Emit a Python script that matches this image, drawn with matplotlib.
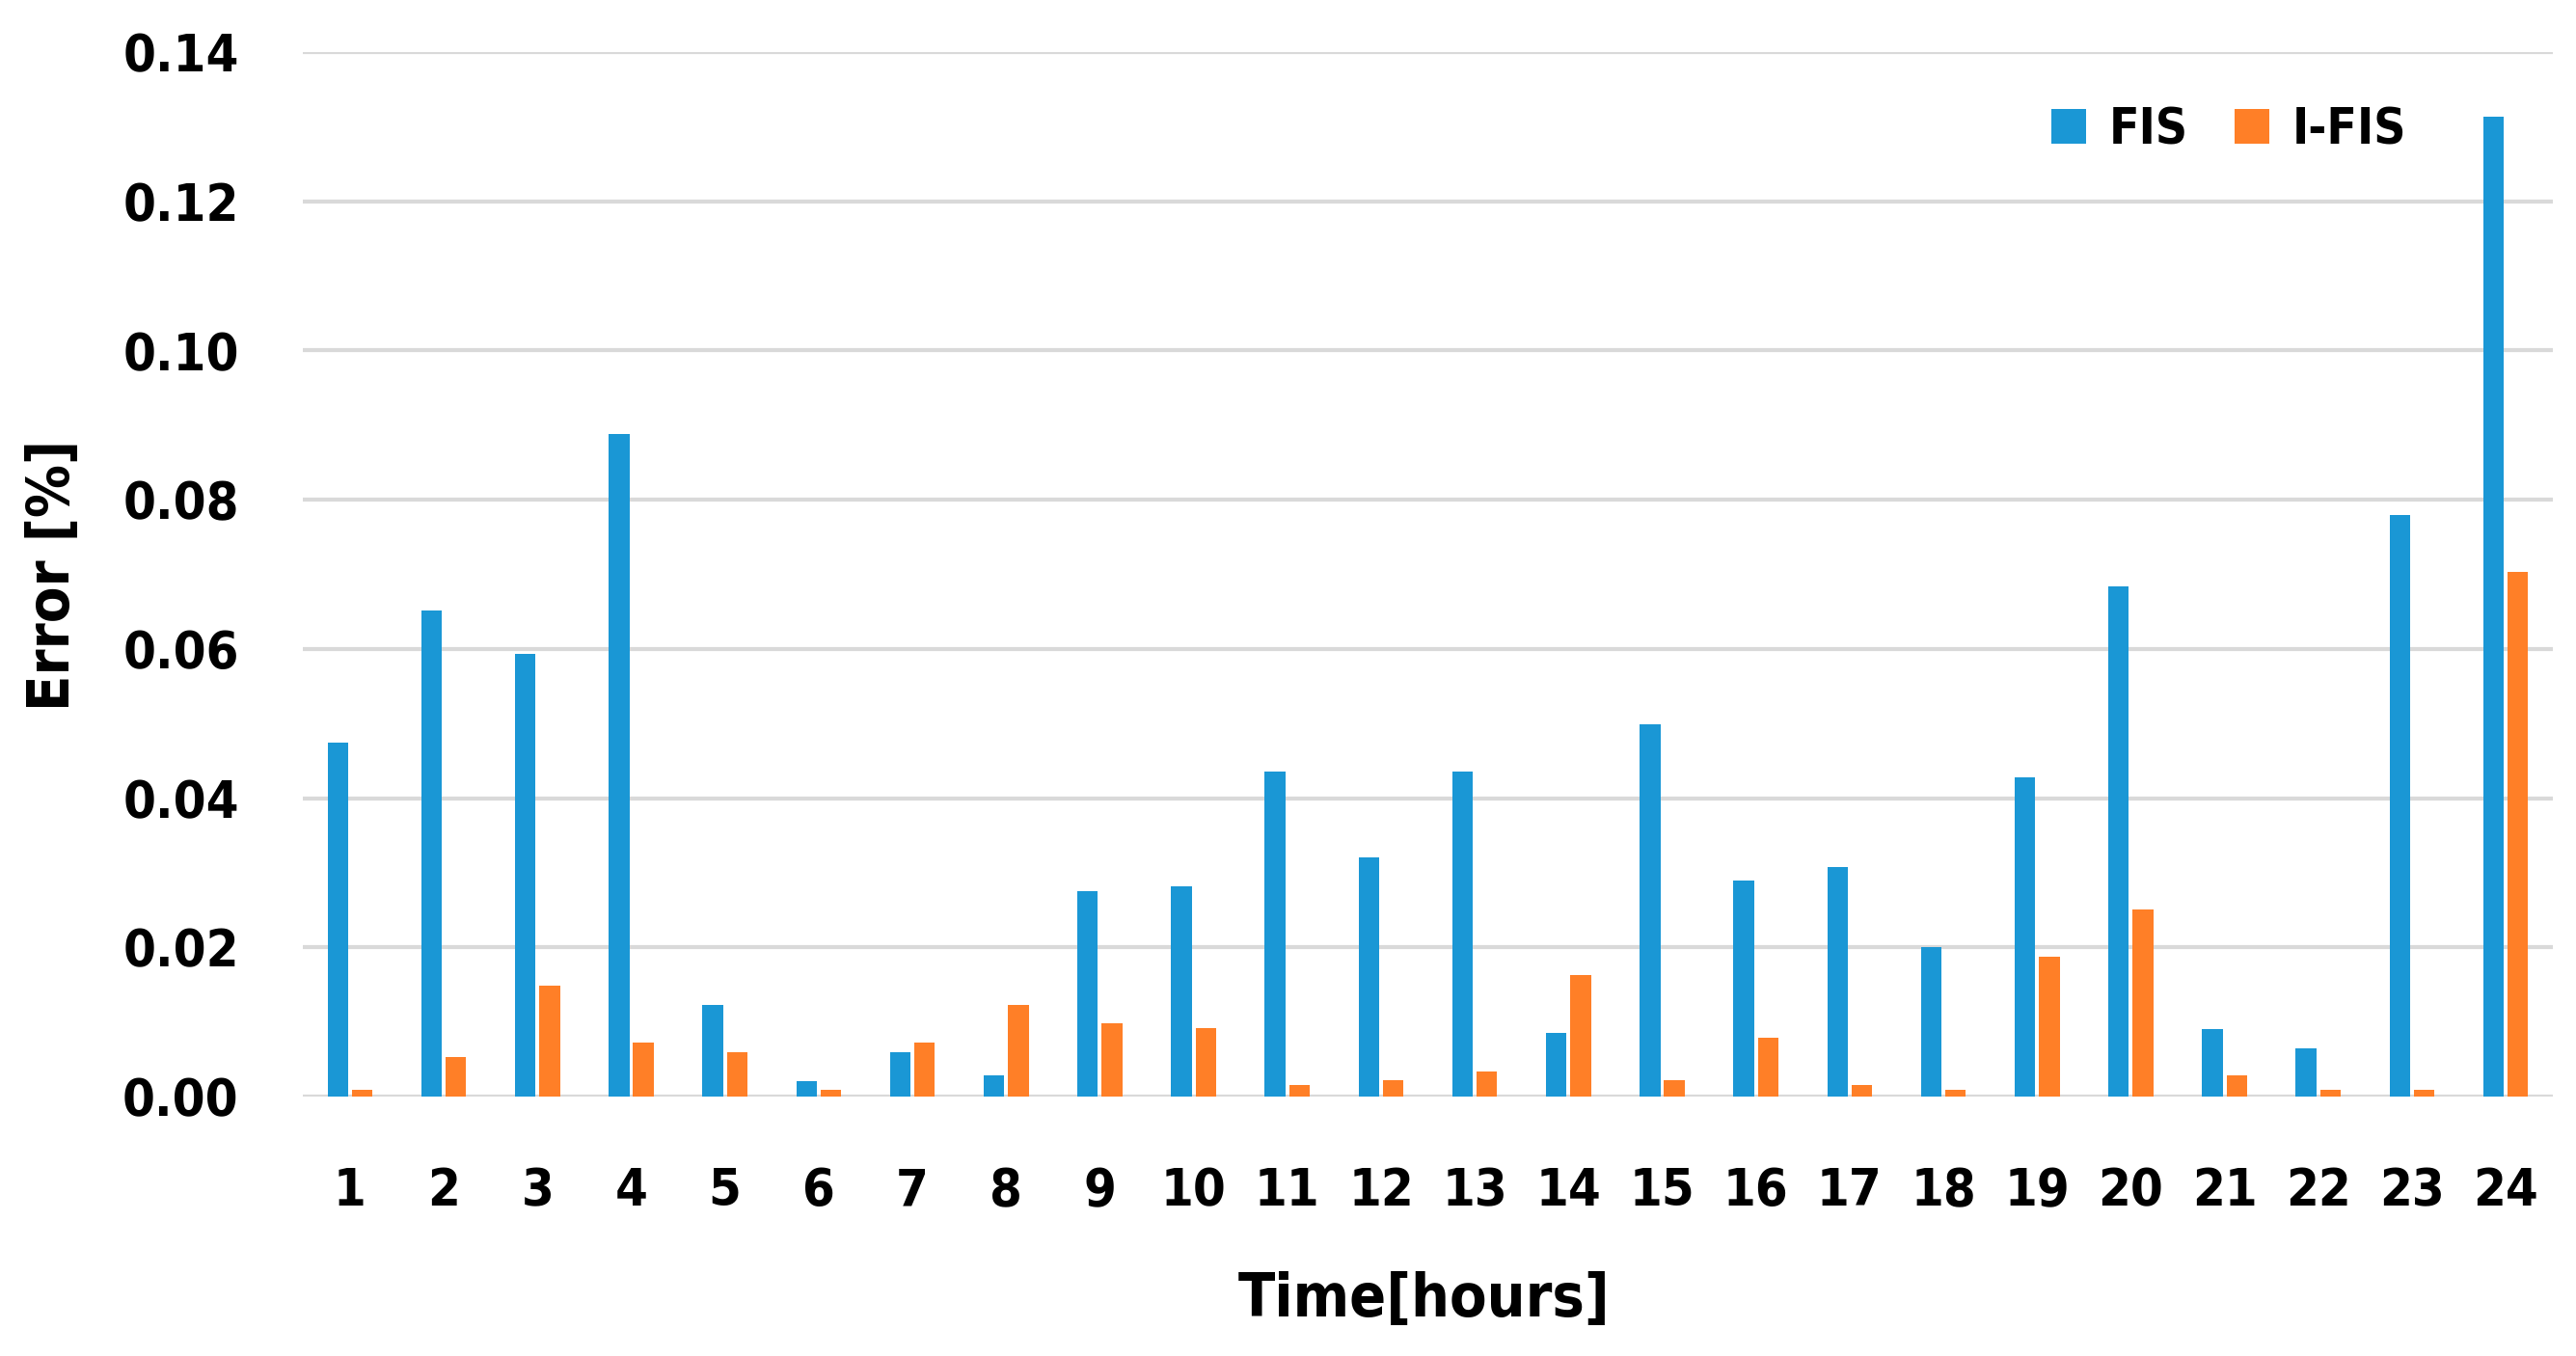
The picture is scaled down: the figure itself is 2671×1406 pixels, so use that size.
import matplotlib
matplotlib.use("Agg")
import matplotlib.pyplot as plt
import numpy as np

hours = [str(h) for h in range(1, 25)]
fis = [0.0474, 0.0652, 0.0594, 0.0888, 0.0123, 0.0021, 0.0059, 0.0028,
       0.0276, 0.0282, 0.0436, 0.0320, 0.0436, 0.0086, 0.0499, 0.0289,
       0.0308, 0.0200, 0.0428, 0.0684, 0.0091, 0.0065, 0.0779, 0.1314]
ifis = [0.0009, 0.0053, 0.0149, 0.0072, 0.0060, 0.0009, 0.0072, 0.0123,
        0.0098, 0.0092, 0.0015, 0.0022, 0.0034, 0.0163, 0.0022, 0.0079,
        0.0015, 0.0009, 0.0187, 0.0251, 0.0028, 0.0009, 0.0009, 0.0703]
yticks = [0.00, 0.02, 0.04, 0.06, 0.08, 0.10, 0.12, 0.14]

plt.rcParams['font.family'] = ['DejaVu Sans']
plt.rcParams['font.stretch'] = 'condensed'
plt.rcParams['font.weight'] = 'bold'

fig = plt.figure(figsize=(26.71, 14.06), dpi=100)
ax = fig.add_axes([0.1177, 0.1913, 0.8732, 0.7703])

x = np.arange(1, 25)
w = 0.22
blue = '#1A97D5'
orange = '#FF7F27'
ax.bar(x - 0.13, fis, width=w, color=blue, label='FIS', zorder=3)
ax.bar(x + 0.13, ifis, width=w, color=orange, label='I-FIS', zorder=3)

ax.set_xlim(0.5, 24.5)
ax.set_ylim(0, 0.14)
ax.set_xticks(x)
ax.set_xticklabels(hours)
ax.set_yticks(yticks)
ax.set_yticklabels([f"{v:.2f}" for v in yticks])
ax.grid(axis='y', color='#D9D9D9', linewidth=3, zorder=0)
ax.set_axisbelow(True)
for s in ax.spines.values():
    s.set_visible(False)
ax.tick_params(axis='both', length=0, labelsize=39, colors='black')
ax.tick_params(axis='x', pad=52)
ax.tick_params(axis='y', pad=48)
for lab in ax.get_xticklabels() + ax.get_yticklabels():
    lab.set_fontweight('bold')

ax.set_xlabel('Time[hours]', fontsize=45, fontweight='bold')
ax.xaxis.set_label_coords(0.4985, -0.167)
ax.set_ylabel('Error [%]', fontsize=44, fontweight='bold')
ax.yaxis.set_label_coords(-0.0984, 0.4995)

leg = ax.legend(loc='center', bbox_to_anchor=(0.856, 0.925), ncol=2,
                frameon=False, fontsize=37, handlelength=0.7, handleheight=0.7,
                handletextpad=0.46, columnspacing=0.94)
for t in leg.get_texts():
    t.set_fontweight('bold')

fig.savefig('out.png', dpi=100, facecolor='white')
